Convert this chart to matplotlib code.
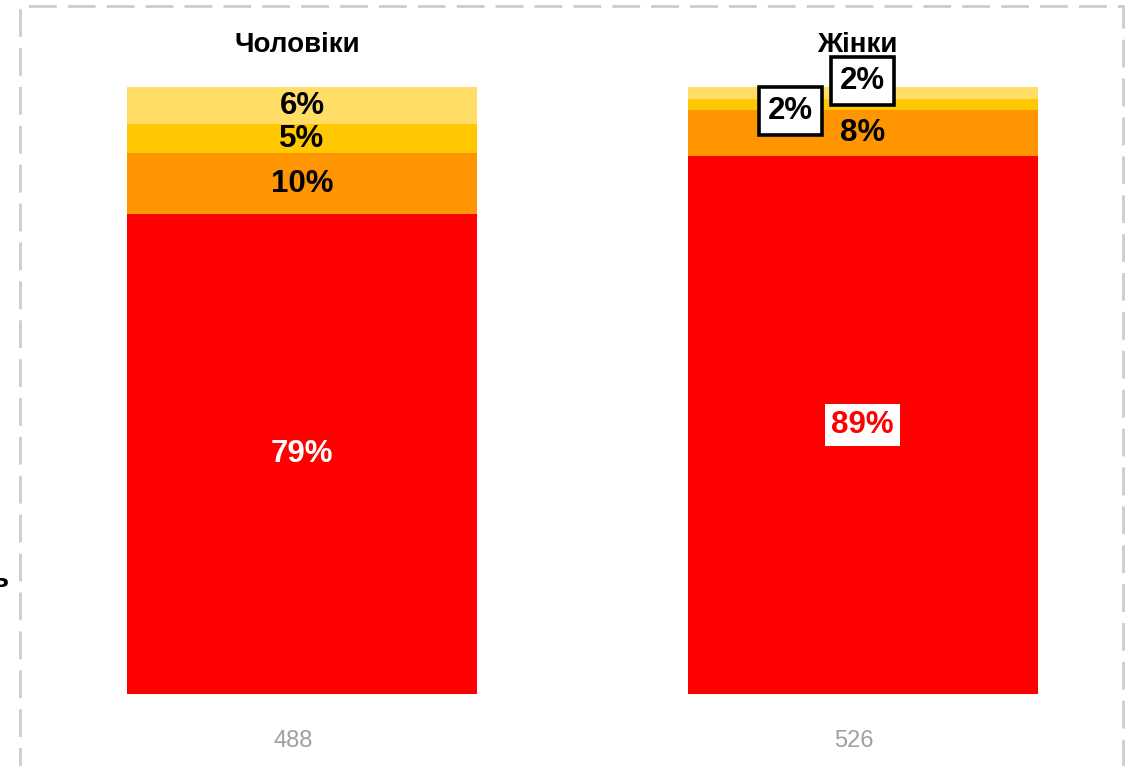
import matplotlib
matplotlib.use("Agg")
import matplotlib.pyplot as plt
from matplotlib.patches import Rectangle
import numpy as np

groups = ["Чоловіки", "Жінки"]
counts = ["488", "526"]
# segments bottom -> top
seg_red = [79.1, 88.6]
seg_orange = [10.0, 7.6]
seg_yellow = [4.8, 1.9]
seg_light = [6.1, 1.9]
colors = ["#FF0000", "#FF9500", "#FFC800", "#FFDD66"]

W, H = 1135, 766
fig = plt.figure(figsize=(W / 100, H / 100), dpi=100)
plt.rcParams['font.family'] = ['Liberation Sans', 'DejaVu Sans']

ax_left, ax_right = 20, 1123
ax_top, ax_bot = 87, 694
ax = fig.add_axes([ax_left / W, 1 - ax_bot / H, (ax_right - ax_left) / W, (ax_bot - ax_top) / H])
c0, c1 = 302, 862.5
unit = c1 - c0
ax.set_xlim(-(c0 - ax_left) / unit, 1 + (ax_right - c1) / unit)
ax.set_ylim(0, 100)
ax.axis("off")

x = np.arange(len(groups))
bw = 350 / unit
series = [seg_red, seg_orange, seg_yellow, seg_light]
bottoms = np.zeros(len(groups))
centers = []
for vals, col in zip(series, colors):
    vals = np.array(vals)
    ax.bar(x, vals, bw, bottom=bottoms, color=col, linewidth=0)
    centers.append(bottoms + vals / 2)
    bottoms = bottoms + vals

py = 100 / (ax_bot - ax_top)  # data units per pixel
fs = 22.5

# titles and counts
for i, (g, n) in enumerate(zip(groups, counts)):
    ax.text(i - (5 / unit), 100 + (ax_top - 41.5) * py, g, ha="center", va="center_baseline", fontsize=20, fontweight="bold", clip_on=False)
    ax.text(i - (9 / unit), -(741 - ax_bot) * py, n, ha="center", va="center", fontsize=17, color="#A0A0A0",
            clip_on=False)

# Men labels
ax.text(0, centers[0][0], f"{seg_red[0]:.0f}%", ha="center", va="center", color="white", fontsize=fs, fontweight="bold")
ax.text(0, centers[1][0], f"{seg_orange[0]:.0f}%", ha="center", va="center", color="black", fontsize=fs, fontweight="bold")
ax.text(0, centers[2][0], f"{seg_yellow[0]:.0f}%", ha="center", va="center", color="black", fontsize=fs, fontweight="bold")
ax.text(0, centers[3][0], f"{seg_light[0]:.0f}%", ha="center", va="center", color="black", fontsize=fs, fontweight="bold")

# Women labels
ax.text(1, centers[0][1], f"{seg_red[1]:.0f}%", ha="center", va="center", color="#FF0000", fontsize=fs, fontweight="bold",
        bbox=dict(boxstyle="square,pad=0.2", facecolor="white", edgecolor="none"))
ax.text(1, centers[1][1], f"{seg_orange[1]:.0f}%", ha="center", va="center", color="black", fontsize=fs, fontweight="bold")
ax.text(1 - 72 / unit, 100 - (111 - ax_top) * py, f"{seg_yellow[1]:.0f}%", ha="center", va="center", color="black",
        fontsize=fs, fontweight="bold",
        bbox=dict(boxstyle="square,pad=0.3", facecolor="white", edgecolor="black", linewidth=2.6))
ax.text(1, 100 + (ax_top - 81) * py, f"{seg_light[1]:.0f}%", ha="center", va="center", color="black",
        fontsize=fs, fontweight="bold",
        bbox=dict(boxstyle="square,pad=0.3", facecolor="white", edgecolor="black", linewidth=2.6),
        clip_on=False)

# dashed border
border = Rectangle((20 / W, -0.05), (1123 - 20) / W, 1 - 6 / H + 0.05, transform=fig.transFigure,
                   fill=False, edgecolor="#CCCCCC", linewidth=2, linestyle=(0, (10, 4)))
fig.patches.append(border)

# cut-off label at left edge
fig.text(8 / W, 1 - 580 / H, "ь", ha="right", va="center", fontsize=20, fontweight="bold")

fig.savefig("out.png", dpi=100)
